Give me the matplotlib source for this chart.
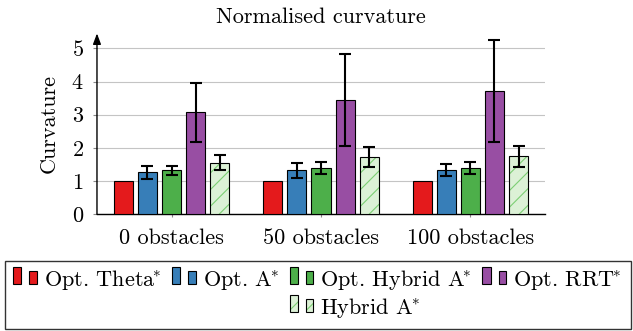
import matplotlib
matplotlib.use("Agg")
import matplotlib.pyplot as plt
import numpy as np
from matplotlib.legend_handler import HandlerBase
from matplotlib.patches import Rectangle

groups = ["0 obstacles", "50 obstacles", "100 obstacles"]

theta = [1.0, 1.0, 1.0]
astar = [1.26, 1.33, 1.33]
astar_err = [0.21, 0.23, 0.18]
hyb_opt = [1.32, 1.39, 1.39]
hyb_opt_err = [0.145, 0.18, 0.185]
rrt = [3.07, 3.44, 3.71]
rrt_err = [0.90, 1.38, 1.53]
hybrid = [1.56, 1.73, 1.75]
hybrid_err = [0.23, 0.29, 0.32]

labels = [r"Opt. Theta$^{\!\!*}$", r"Opt. A$^{\!\!*}$", r"Opt. Hybrid A$^{\!\!*}$",
          r"Opt. RRT$^{\!\!*}$", r"Hybrid A$^{\!\!*}$"]

red = "#e41a1c"
blue = "#377eb8"
green = "#4daf4a"
purple = "#984ea3"
light_green = "#dcf1d6"
hatch_green = "#7ccf74"

plt.rcParams["font.family"] = "cmr10"
plt.rcParams["mathtext.fontset"] = "cm"
plt.rcParams["axes.formatter.use_mathtext"] = True
plt.rcParams["font.size"] = 16
plt.rcParams["hatch.linewidth"] = 0.8


class PairBar:
    def __init__(self, face=None, hatch=None):
        self.face = face
        self.hatch = hatch


class PairBarHandler(HandlerBase):
    # two bars side by side, like the pgfplots ybar legend image
    def create_artists(self, legend, orig_handle, xdescent, ydescent,
                       width, height, fontsize, trans):
        if orig_handle.face is None:
            r = Rectangle((0, 0), 1, 1, visible=False)
            r.set_transform(trans)
            return [r]
        arts = []
        for x0, rw, rh in [(0.0, 0.35, 0.75), (0.68, 0.31, 0.57)]:
            rx = x0 * width - xdescent
            ry = -ydescent + 0.14 * fontsize
            if orig_handle.hatch:
                r = Rectangle((rx, ry), rw * width, rh * fontsize, facecolor=orig_handle.face,
                              edgecolor=hatch_green, hatch=orig_handle.hatch, lw=0)
                r.set_transform(trans)
                arts.append(r)
                r2 = Rectangle((rx, ry), rw * width, rh * fontsize, fill=False,
                               edgecolor="black", lw=0.8)
                r2.set_transform(trans)
                arts.append(r2)
            else:
                r = Rectangle((rx, ry), rw * width, rh * fontsize, facecolor=orig_handle.face,
                              edgecolor="black", lw=0.8)
                r.set_transform(trans)
                arts.append(r)
        return arts


fig = plt.figure(figsize=(6.33, 3.31), dpi=100)
ax = fig.add_axes([0.1532, 0.3526, 0.7078, 0.5464])

x = np.arange(len(groups))
w = 0.1275
step = 0.1617
ekw = dict(ecolor="black", elinewidth=1.5, capsize=4, capthick=1.5, zorder=6)

ax.bar(x - 2 * step, theta, w, color=red, edgecolor="black", linewidth=0.8, zorder=3)
ax.bar(x - step, astar, w, color=blue, edgecolor="black", linewidth=0.8,
       yerr=astar_err, error_kw=ekw, zorder=3)
ax.bar(x, hyb_opt, w, color=green, edgecolor="black", linewidth=0.8,
       yerr=hyb_opt_err, error_kw=ekw, zorder=3)
ax.bar(x + step, rrt, w, color=purple, edgecolor="black", linewidth=0.8,
       yerr=rrt_err, error_kw=ekw, zorder=3)
ax.bar(x + 2 * step, hybrid, w, color=light_green, edgecolor=hatch_green,
       hatch="//", linewidth=0, zorder=3)
ax.bar(x + 2 * step, hybrid, w, fill=False, edgecolor="black", linewidth=0.8,
       yerr=hybrid_err, error_kw=ekw, zorder=4)

ax.set_xlim(-0.5, 2.5)
ax.set_ylim(0, 5.45)
ax.set_yticks(range(6))
ax.set_xticks(x)
ax.set_xticklabels(groups)
ax.yaxis.grid(True, color="#c4c4c4", linewidth=0.8)
ax.set_axisbelow(True)

for s in ["top", "right", "left"]:
    ax.spines[s].set_visible(False)
ax.spines["bottom"].set_linewidth(1.0)
ax.tick_params(axis="x", length=2.5, width=0.8, color="#888888", pad=8)
ax.tick_params(axis="y", length=3, width=0.8, color="#888888", pad=6.5)

ax.annotate("", xy=(0, 1), xytext=(0, 0), xycoords="axes fraction",
            textcoords="axes fraction", annotation_clip=False,
            arrowprops=dict(arrowstyle="-|>,head_length=0.4,head_width=0.15",
                            color="black", lw=1.0, shrinkA=0, shrinkB=0))

ax.set_title("Normalised curvature", fontsize=16, pad=7.5)
ax.set_ylabel("Curvature", labelpad=9)

# legend: 4 columns, Hybrid A* sits under the third column
blank = PairBar()
handles = [PairBar(red), blank, PairBar(blue), blank,
           PairBar(green), PairBar(light_green, "//"), PairBar(purple), blank]
leg_labels = [labels[0], "", labels[1], "", labels[2], labels[4], labels[3], ""]
fig.legend(handles, leg_labels, handler_map={PairBar: PairBarHandler()},
           ncol=4, loc="upper left", bbox_to_anchor=(13 / 633, 1 - 269 / 331),
           frameon=False, borderpad=0, borderaxespad=0,
           handlelength=1.08, handleheight=0.7, handletextpad=0.3,
           columnspacing=0.48, labelspacing=0.15, fontsize=16)

fig.patches.append(Rectangle((5 / 633, 2 / 331), 626 / 633, 68 / 331,
                             transform=fig.transFigure, fill=False,
                             edgecolor="#333333", linewidth=1.0))

fig.savefig("out.png", dpi=100)
